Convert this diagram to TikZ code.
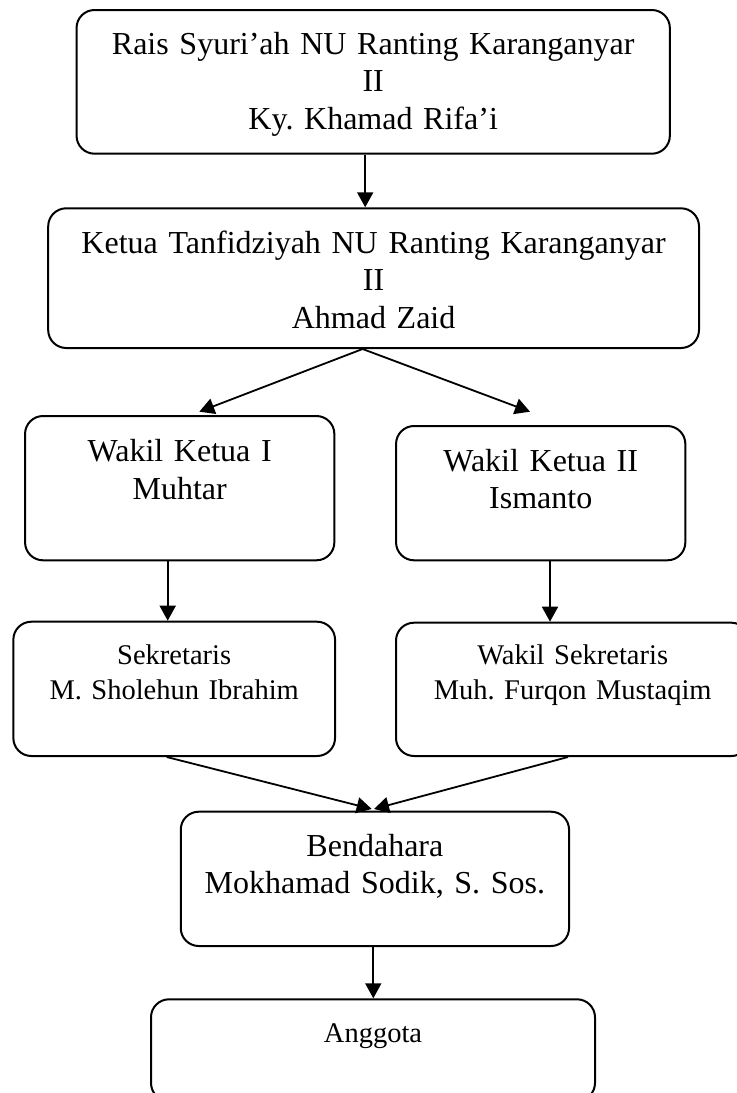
\documentclass[tikz,border=0pt]{standalone}
\usepackage{fontspec}
\setmainfont{Liberation Serif}
\usetikzlibrary{arrows.meta}
\frenchspacing
\newcommand{\hurufbesar}{\fontsize{16pt}{18.75pt}\selectfont}
\newcommand{\hurufkecil}{\fontsize{14.25pt}{17.5pt}\selectfont}
\tikzset{
    kotak/.style={draw, line width=1pt, rounded corners=9pt, inner sep=0pt,
        align=center, anchor=north, font=\hurufbesar},
    panah/.style={line width=0.9pt, -{Triangle[length=7.5pt,width=8pt]}}
}
\begin{document}
\begin{tikzpicture}[x=0.5pt, y=-0.5pt]
    \useasboundingbox (0,0) rectangle (737,1093);
    % pengurus
    \node[kotak, text width=296.65pt, text height=22.15pt, text depth=49.7pt] (rais) at (373.2,9)
        {Rais Syuri’ah NU Ranting Karanganyar\\ II\\ Ky. Khamad Rifa’i};
    \node[kotak, text width=325.4pt, text height=22.5pt, text depth=47.35pt] (ketua) at (373.6,207.3)
        {Ketua Tanfidziyah NU Ranting Karanganyar\\ II\\ Ahmad Zaid};
    \node[kotak, text width=154.65pt, text height=22.85pt, text depth=49.3pt] (wk1) at (179.7,415)
        {Wakil Ketua I\\ Muhtar};
    \node[kotak, text width=144.65pt, text height=22.5pt, text depth=44.65pt] (wk2) at (540.7,425)
        {Wakil Ketua II\\ Ismanto};
    \node[kotak, font=\hurufkecil, text width=160.85pt, text height=21.3pt, text depth=45.85pt] (sek) at (174.2,620.7)
        {Sekretaris\\ M. Sholehun Ibrahim};
    \node[kotak, font=\hurufkecil, text width=176.7pt, text height=20.8pt, text depth=45.85pt] (wsek) at (572.7,621.7)
        {Wakil Sekretaris\\ Muh. Furqon Mustaqim};
    \node[kotak, text width=194.15pt, text height=22.15pt, text depth=45pt] (bend) at (374.9,810.7)
        {Bendahara\\ Mokhamad Sodik, S. Sos.};
    \node[kotak, font=\hurufkecil, text width=222pt, text height=21.35pt, text depth=29.5pt] (angg) at (373,998.3)
        {Anggota};
    % garis
    \draw[panah] ([xshift=-4pt]rais.south) -- ([xshift=-4pt]rais.south |- ketua.north);
    \draw[panah] ([xshift=-5.5pt]ketua.south) -- ([xshift=9.8pt,yshift=1.65pt]wk1.north);
    \draw[panah] ([xshift=-5.5pt]ketua.south) -- ([xshift=-5.35pt,yshift=6.65pt]wk2.north);
    \draw[panah] ([xshift=-6pt]wk1.south) -- ([xshift=-6pt]wk1.south |- sek.north);
    \draw[panah] ([xshift=4.65pt]wk2.south) -- ([xshift=4.65pt]wk2.south |- wsek.north);
    \draw[panah] ([xshift=-3.75pt]sek.south) -- ([xshift=-1.6pt,yshift=0.85pt]bend.north);
    \draw[panah] ([xshift=-2.35pt]wsek.south) -- ([xshift=-0.45pt,yshift=0.85pt]bend.north);
    \draw[panah] ([xshift=-0.8pt]bend.south) -- ([xshift=-0.8pt]bend.south |- angg.north);
\end{tikzpicture}
\end{document}
